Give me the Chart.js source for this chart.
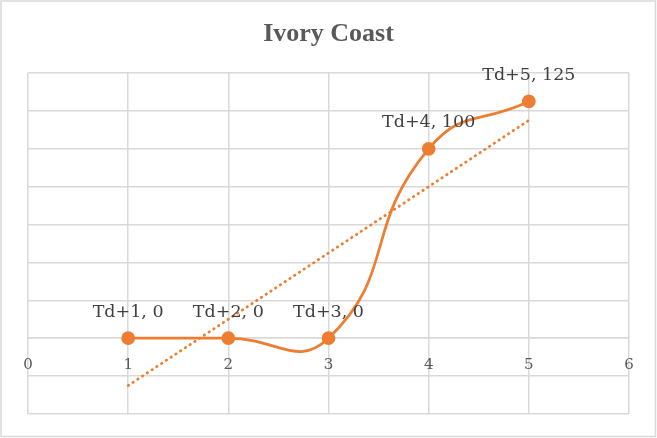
<!DOCTYPE html>
<html>
<head>
<meta charset="utf-8">
<script src="https://cdn.jsdelivr.net/npm/chart.js@4.4.1/dist/chart.umd.min.js"></script>
<style>
  html, body { margin: 0; padding: 0; background: #fff; }
  #wrap { width: 657px; height: 438px; }
</style>
</head>
<body>
<div id="wrap"><canvas id="ivoryChart" width="657" height="438"></canvas></div>
<script>
// Data
const xValues = [1, 2, 3, 4, 5];
const yValues = [0, 0, 0, 100, 125];
const pointNames = ['Td+1', 'Td+2', 'Td+3', 'Td+4', 'Td+5'];
const xTicks = [0, 1, 2, 3, 4, 5, 6];

const orange = '#ED7D31';
const gridColor = '#d9d9d9';
const serif = "'Liberation Serif', 'DejaVu Serif', serif";
const wideSerif = "'DejaVu Serif', 'Liberation Serif', serif";

// Linear trendline (least squares), like the Excel one
function linearTrend(xs, ys) {
  const n = xs.length;
  const mx = xs.reduce((a, b) => a + b, 0) / n;
  const my = ys.reduce((a, b) => a + b, 0) / n;
  let num = 0, den = 0;
  for (let i = 0; i < n; i++) {
    num += (xs[i] - mx) * (ys[i] - my);
    den += (xs[i] - mx) * (xs[i] - mx);
  }
  const slope = num / den;
  const icpt = my - slope * mx;
  return [xs[0], xs[n - 1]].map(x => ({ x: x, y: icpt + slope * x }));
}

const seriesPoints = xValues.map((x, i) => ({ x: x, y: yValues[i] }));

// Draw "Td+N, value" above each point
const pointLabels = {
  id: 'pointLabels',
  afterDatasetsDraw(chart) {
    const ctx = chart.ctx;
    const meta = chart.getDatasetMeta(0);
    ctx.save();
    ctx.font = '17.5px ' + wideSerif;
    ctx.fillStyle = '#404040';
    ctx.textAlign = 'center';
    ctx.textBaseline = 'middle';
    meta.data.forEach((pt, i) => {
      ctx.fillText(pointNames[i] + ', ' + yValues[i], pt.x, pt.y - 26);
    });
    ctx.restore();
  }
};

// Outer chart border
const outerBorder = {
  id: 'outerBorder',
  beforeDraw(chart) {
    const ctx = chart.ctx;
    ctx.save();
    ctx.fillStyle = '#fff';
    ctx.fillRect(0, 0, chart.width, chart.height);
    ctx.strokeStyle = gridColor;
    ctx.lineWidth = 1.5;
    ctx.strokeRect(1, 1, chart.width - 2.5, chart.height - 2.5);
    ctx.restore();
  }
};

const ctx = document.getElementById('ivoryChart').getContext('2d');
const ivoryChart = new Chart(ctx, {
  type: 'scatter',
  data: {
    datasets: [{
      label: 'Ivory Coast',
      data: seriesPoints,
      showLine: true,
      borderColor: orange,
      backgroundColor: orange,
      borderWidth: 2.75,
      tension: 0.5,
      pointRadius: 5.5,
      pointHoverRadius: 5.5,
      order: 1
    }, {
      label: 'Trend',
      data: linearTrend(xValues, yValues),
      showLine: true,
      borderColor: orange,
      borderWidth: 2.75,
      borderDash: [0.5, 5.2],
      borderCapStyle: 'round',
      pointRadius: 0,
      tension: 0,
      order: 2
    }]
  },
  options: {
    responsive: false,
    animation: false,
    layout: { padding: { left: 28, right: 28, top: 0, bottom: 24 } },
    plugins: {
      legend: { display: false },
      tooltip: { enabled: false },
      title: {
        display: true,
        text: 'Ivory Coast',
        color: '#595959',
        font: { family: serif, size: 26, weight: 'bold' },
        padding: { top: 19, bottom: 22.8 }
      }
    },
    scales: {
      x: {
        type: 'linear',
        position: { y: 0 },
        min: 0,
        max: 6,
        afterBuildTicks: axis => { axis.ticks = xTicks.map(v => ({ value: v })); },
        ticks: {
          color: '#595959',
          font: { family: wideSerif, size: 15 },
          padding: 18
        },
        grid: { color: gridColor, lineWidth: 1.5, drawTicks: false },
        border: { color: gridColor, width: 1.5 }
      },
      y: {
        min: -40,
        max: 140,
        ticks: { display: false, stepSize: 20 },
        grid: { color: gridColor, lineWidth: 1.5, drawTicks: false },
        border: { display: false }
      }
    }
  },
  plugins: [outerBorder, pointLabels]
});
</script>
</body>
</html>
